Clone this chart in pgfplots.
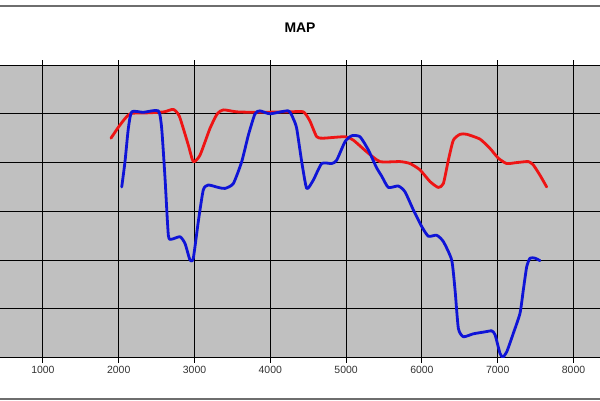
\documentclass[border=0pt]{standalone}
\usepackage{pgfplots}
\pgfplotsset{compat=1.18}
\usepackage{fontspec}
\setmainfont{Liberation Sans}
\definecolor{plotgray}{RGB}{192,192,192}
\definecolor{redline}{RGB}{238,20,20}
\definecolor{blueline}{RGB}{15,20,215}
\definecolor{frameline}{RGB}{110,110,110}
\begin{document}
\begin{tikzpicture}[x=1bp,y=1bp]
\useasboundingbox (0,0) rectangle (600,400);
\fill[white] (0,0) rectangle (600,400);
\begin{axis}[
  at={(-10bp,42.3bp)}, anchor=south west,
  scale only axis, width=620bp, height=292.7bp,
  xmin=302, xmax=8481.5, ymin=0, ymax=6,
  axis background/.style={fill=plotgray},
  xtick={1000,2000,...,8000},
  ytick={1,2,3,4,5},
  yticklabels={},
  ymajorticks=true,
  grid=major,
  major grid style={black, line width=0.9bp},
  axis line style={black, line width=0.9bp},
  x tick style={black, line width=0.9bp},
  y tick style={draw=none},
  tick align=outside,
  major tick length=5bp,
  xticklabel style={font=\fontsize{10.5}{12}\selectfont, text=black!80},
  /pgf/number format/assume math mode=true,
  /pgf/number format/1000 sep={},
  clip=true,
]
\addplot[redline, line width=2.8bp, line join=round, line cap=round, smooth, tension=0.35] coordinates {
(1898,4.50) (2017,4.77) (2150,5.00) (2400,5.02) (2600,5.04) (2720,5.09) (2800,4.95)
(2918,4.36) (2984,4.02) (3072,4.15) (3204,4.70) (3300,5.00) (3380,5.08) (3557,5.04)
(3821,5.03) (4260,5.04) (4435,5.04) (4520,4.86) (4612,4.53) (4699,4.50) (4986,4.53)
(5095,4.46) (5272,4.22) (5447,4.02) (5711,4.02) (5843,3.98) (5975,3.85) (6107,3.61)
(6216,3.49) (6283,3.57) (6349,4.05) (6415,4.46) (6503,4.58) (6591,4.58) (6767,4.48)
(6898,4.29) (7008,4.09) (7119,3.98) (7251,4.00) (7404,4.02) (7470,3.95) (7558,3.74)
(7646,3.50)
};
\addplot[blueline, line width=2.8bp, line join=round, line cap=round, smooth, tension=0.35] coordinates {
(2040,3.50) (2083,4.02) (2127,4.70) (2172,5.04) (2325,5.03) (2523,5.06) (2567,4.70)
(2611,3.68) (2655,2.51) (2699,2.43) (2809,2.48) (2875,2.34) (2941,2.00) (2984,2.04)
(3050,2.79) (3116,3.44) (3182,3.54) (3314,3.49) (3402,3.47) (3512,3.57) (3623,4.02)
(3710,4.56) (3798,5.00) (3864,5.06) (3996,5.00) (4237,5.06) (4303,4.90) (4348,4.70)
(4414,4.02) (4480,3.47) (4567,3.64) (4678,3.98) (4810,3.98) (4876,4.05) (4986,4.43)
(5074,4.55) (5183,4.53) (5293,4.26) (5400,3.90) (5470,3.72) (5557,3.49) (5689,3.52)
(5777,3.40) (5887,3.03) (5997,2.69) (6085,2.49) (6195,2.51) (6283,2.38) (6393,2.00)
(6437,1.39) (6481,0.60) (6547,0.43) (6679,0.49) (6833,0.53) (6921,0.55) (6965,0.47)
(7030,0.09) (7066,0.01) (7119,0.12) (7206,0.50) (7294,0.91) (7338,1.39) (7382,1.86)
(7426,2.04) (7492,2.04) (7558,1.99)
};
\end{axis}
\node[font=\fontsize{14}{16}\selectfont\bfseries] at (300,372) {MAP};
\draw[frameline, line width=2bp] (0,394.3) -- (600,394.3);
\draw[frameline, line width=2bp] (0,1.5) -- (600,1.5);
\end{tikzpicture}
\end{document}
